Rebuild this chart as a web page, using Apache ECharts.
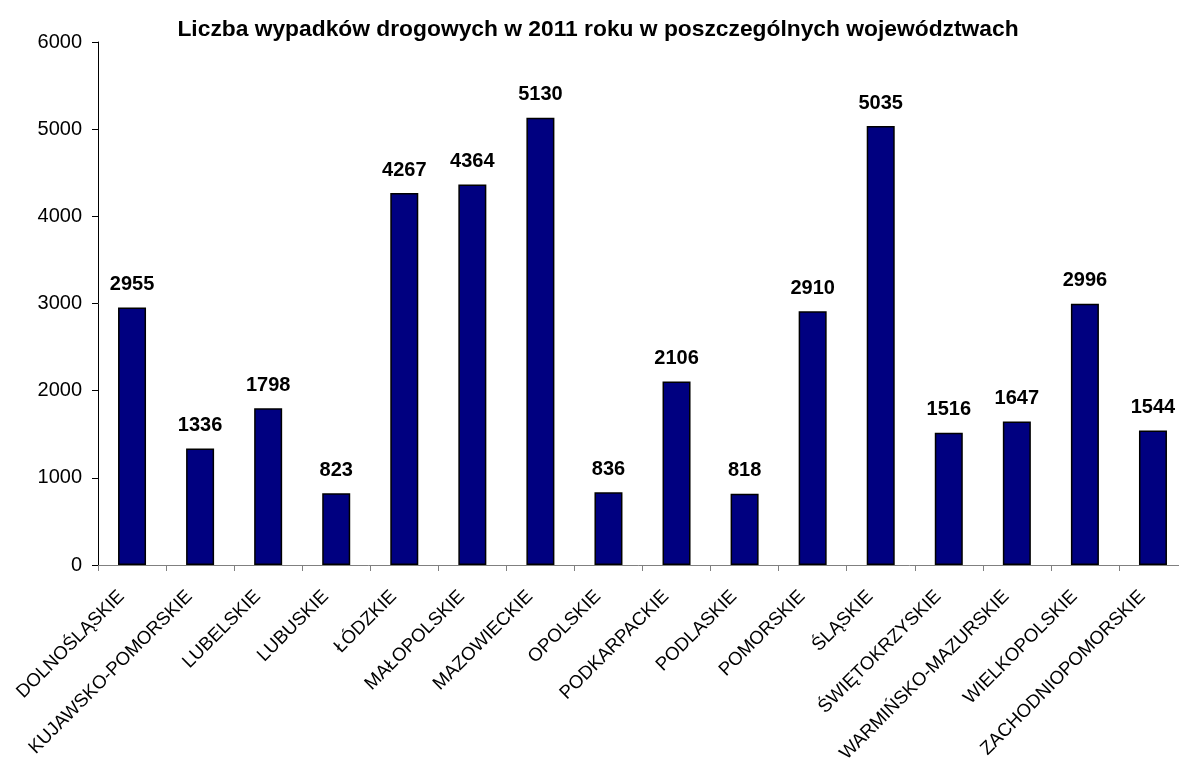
<!DOCTYPE html>
<html>
<head>
<meta charset="utf-8">
<script src="https://cdn.jsdelivr.net/npm/echarts@6/dist/echarts.min.js"></script>
<style>
  html, body { margin: 0; padding: 0; background: #fff; }
  #chart { width: 1179px; height: 762px; }
</style>
</head>
<body>
<div id="chart"></div>
<script>
var categories = ['DOLNOŚLĄSKIE', 'KUJAWSKO-POMORSKIE', 'LUBELSKIE', 'LUBUSKIE', 'ŁÓDZKIE',
	'MAŁOPOLSKIE', 'MAZOWIECKIE', 'OPOLSKIE', 'PODKARPACKIE', 'PODLASKIE', 'POMORSKIE',
	'ŚLĄSKIE', 'ŚWIĘTOKRZYSKIE', 'WARMIŃSKO-MAZURSKIE', 'WIELKOPOLSKIE', 'ZACHODNIOPOMORSKIE'];
var accidents = [2955, 1336, 1798, 823, 4267, 4364, 5130, 836, 2106, 818, 2910, 5035, 1516, 1647, 2996, 1544];
var title = 'Liczba wypadków drogowych w 2011 roku w poszczególnych województwach';

var myChart = echarts.init(document.getElementById('chart'));
var option = {
	backgroundColor: '#fff',
	animation: false,
	textStyle: { fontFamily: 'Liberation Sans, Arial, sans-serif' },
	title: {
		text: title,
		left: 593,
		textAlign: 'center',
		top: 13,
		textStyle: { fontSize: 22.8, fontWeight: 'bold', color: '#000' }
	},
	grid: {
		left: 98,
		top: 42,
		width: 1089,
		height: 523,
		outerBoundsMode: 'none'
	},
	xAxis: {
		type: 'category',
		data: categories,
		axisLine: { lineStyle: { color: '#808080', width: 1 } },
		axisTick: { show: true, length: 6, lineStyle: { color: '#808080' } },
		axisLabel: {
			rotate: 45,
			interval: 0,
			color: '#000',
			fontSize: 18.6,
			margin: 18,
			padding: [0, 15, 0, 0]
		}
	},
	yAxis: {
		type: 'value',
		min: 0,
		max: 6000,
		interval: 1000,
		axisLine: { show: true, lineStyle: { color: '#000', width: 1 } },
		axisTick: { show: true, length: 6, lineStyle: { color: '#000' } },
		splitLine: { show: false },
		axisLabel: {
			color: '#000',
			fontSize: 20,
			margin: 16,
			formatter: function(v) {
				return String(v)
			}
		}
	},
	series: [{
		type: 'bar',
		data: accidents,
		barWidth: 28,
		itemStyle: { color: '#000080', borderColor: '#000', borderWidth: 1.5 },
		label: {
			show: true,
			position: 'top',
			distance: 13,
			color: '#000',
			fontSize: 20,
			fontWeight: 'bold'
		}
	}]
};
myChart.setOption(option);

window.onresize = function() {
	myChart.resize();
}
</script>
</body>
</html>
